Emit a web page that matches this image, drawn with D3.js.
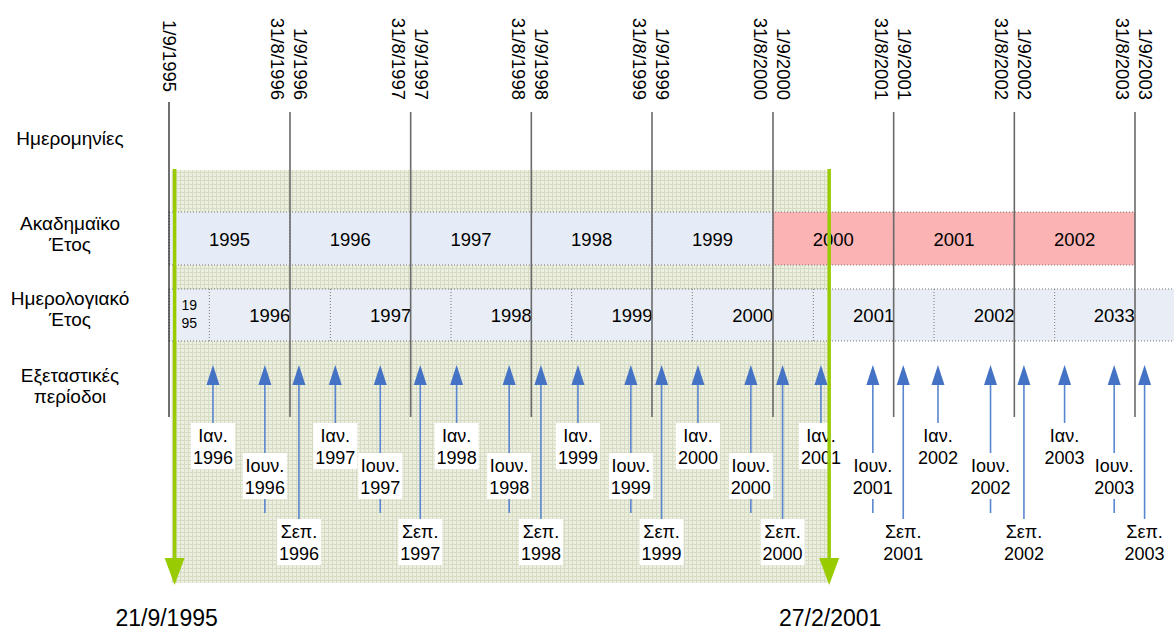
<!DOCTYPE html>
<html>
<head>
<meta charset="utf-8">
<script src="https://cdn.jsdelivr.net/npm/d3@7"></script>
<style>
  html, body { margin: 0; padding: 0; background: #ffffff; }
  svg { display: block; font-family: "Liberation Sans", Arial, sans-serif; }
</style>
</head>
<body>
<svg id="chart" width="1174" height="630"></svg>
<script>
// ---------------- DATA ----------------
const rowLabels = [
  ["Ημερομηνίες"],
  ["Ακαδημαϊκο", "Έτος"],
  ["Ημερολογιακό", "Έτος"],
  ["Εξεταστικές", "περίοδοι"]
];

// academic-year boundaries (1 September of each year)
const boundaryDates = ["1995-09-01","1996-09-01","1997-09-01","1998-09-01","1999-09-01",
                       "2000-09-01","2001-09-01","2002-09-01","2003-09-01"];
const boundaryLabels = [
  ["1/9/1995"],
  ["1/9/1996", "31/8/1996"],
  ["1/9/1997", "31/8/1997"],
  ["1/9/1998", "31/8/1998"],
  ["1/9/1999", "31/8/1999"],
  ["1/9/2000", "31/8/2000"],
  ["1/9/2001", "31/8/2001"],
  ["1/9/2002", "31/8/2002"],
  ["1/9/2003", "31/8/2003"]
];

// academic years (start year), and those highlighted in red
const academicYears = ["1995","1996","1997","1998","1999","2000","2001","2002"];
const academicHighlighted = ["2000","2001","2002"];

// calendar years: start date of each cell and its label lines
const calendarStarts = ["1995-09-01","1996-01-01","1997-01-01","1998-01-01","1999-01-01",
                        "2000-01-01","2001-01-01","2002-01-01","2003-01-01"];
const calendarLabels = [["19","95"],["1996"],["1997"],["1998"],["1999"],["2000"],["2001"],["2002"],["2033"]];

// examination periods
const examDates = [
  "1996-01-12","1996-06-17","1996-09-28",
  "1997-01-16","1997-06-01","1997-09-30",
  "1998-01-18","1998-06-26","1998-09-30",
  "1999-01-20","1999-06-29","1999-09-30",
  "2000-01-18","2000-06-26","2000-09-30",
  "2001-01-24","2001-06-30","2001-09-30",
  "2002-01-13","2002-06-21","2002-09-30",
  "2003-01-31","2003-06-30","2003-09-30"
];
const examKinds = [
  "jan","jun","sep","jan","jun","sep","jan","jun","sep","jan","jun","sep",
  "jan","jun","sep","jan","jun","sep","jan","jun","sep","jan","jun","sep"
];
const examLabels = [
  ["Ιαν.","1996"],["Ιουν.","1996"],["Σεπ.","1996"],
  ["Ιαν.","1997"],["Ιουν.","1997"],["Σεπ.","1997"],
  ["Ιαν.","1998"],["Ιουν.","1998"],["Σεπ.","1998"],
  ["Ιαν.","1999"],["Ιουν.","1999"],["Σεπ.","1999"],
  ["Ιαν.","2000"],["Ιουν.","2000"],["Σεπ.","2000"],
  ["Ιαν.","2001"],["Ιουν.","2001"],["Σεπ.","2001"],
  ["Ιαν.","2002"],["Ιουν.","2002"],["Σεπ.","2002"],
  ["Ιαν.","2003"],["Ιουν.","2003"],["Σεπ.","2003"]
];

// highlighted span
const spanDates = ["1995-09-21", "2001-02-27"];
const spanLabels = ["21/9/1995", "27/2/2001"];

// ---------------- LAYOUT ----------------
const W = 1174, H = 630;
const parse = d3.timeParse("%Y-%m-%d");
const x = d3.scaleTime()
  .domain([parse(boundaryDates[0]), parse(boundaryDates[boundaryDates.length - 1])])
  .range([169, 1135]);

const svg = d3.select("#chart");
svg.append("rect").attr("width", W).attr("height", H).attr("fill", "#ffffff");

const defs = svg.append("defs");
const pat = defs.append("pattern").attr("id", "hatch")
  .attr("width", 4).attr("height", 4).attr("patternUnits", "userSpaceOnUse");
pat.append("rect").attr("width", 4).attr("height", 4).attr("fill", "#ECEEDF");
pat.append("path").attr("d", "M0,0.5H4M0.5,0V4").attr("stroke", "#D6DBC3").attr("stroke-width", 1);

const GREEN = "#99CC00", BLUE = "#4472C4";
const acadY = 212, acadH = 53, calY = 289, calH = 52;
const hatchTop = 170, hatchBottom = 583;

// hatched period background
const xs0 = x(parse(spanDates[0])), xs1 = x(parse(spanDates[1]));
svg.append("rect")
  .attr("x", xs0 - 4).attr("y", hatchTop)
  .attr("width", (xs1 - 4) - (xs0 - 4)).attr("height", hatchBottom - hatchTop)
  .attr("fill", "url(#hatch)");

// ---- academic year row
const acad = svg.append("g");
academicYears.forEach((yr, i) => {
  const a = x(parse(boundaryDates[i])), b = x(parse(boundaryDates[i + 1]));
  acad.append("rect").attr("x", a).attr("y", acadY).attr("width", b - a).attr("height", acadH)
    .attr("fill", academicHighlighted.includes(yr) ? "#FCB3B4" : "#E6ECF7");
  acad.append("line").attr("x1", a).attr("x2", a).attr("y1", acadY).attr("y2", acadY + acadH)
    .attr("stroke", "#777").attr("stroke-dasharray", "1,2");
  acad.append("text").attr("x", (a + b) / 2).attr("y", acadY + acadH / 2 + 7)
    .attr("text-anchor", "middle").attr("font-size", 18.5).attr("fill", "#000").text(yr);
});
{
  const a = x(parse(boundaryDates[0])), b = x(parse(boundaryDates[academicYears.length]));
  [acadY, acadY + acadH].forEach(yy => acad.append("line")
    .attr("x1", a).attr("x2", b).attr("y1", yy).attr("y2", yy)
    .attr("stroke", "#777").attr("stroke-dasharray", "1,2"));
}

// ---- calendar year row
const cal = svg.append("g");
calendarStarts.forEach((d, i) => {
  const a = x(parse(d));
  const b = i + 1 < calendarStarts.length ? x(parse(calendarStarts[i + 1])) : W;
  cal.append("rect").attr("x", a).attr("y", calY).attr("width", b - a).attr("height", calH)
    .attr("fill", "#E9EEF6");
  cal.append("line").attr("x1", a).attr("x2", a).attr("y1", calY).attr("y2", calY + calH)
    .attr("stroke", "#777").attr("stroke-dasharray", "1,2");
  const lines = calendarLabels[i];
  if (lines.length === 1) {
    cal.append("text").attr("x", (a + b) / 2).attr("y", calY + calH / 2 + 7)
      .attr("text-anchor", "middle").attr("font-size", 18.5).text(lines[0]);
  } else {
    lines.forEach((t, k) => cal.append("text").attr("x", (a + b) / 2)
      .attr("y", calY + 21 + k * 17.5).attr("text-anchor", "middle")
      .attr("font-size", 14).text(t));
  }
});
[calY, calY + calH].forEach(yy => cal.append("line")
  .attr("x1", x(parse(calendarStarts[0]))).attr("x2", W).attr("y1", yy).attr("y2", yy)
  .attr("stroke", "#777").attr("stroke-dasharray", "1,2"));

// ---- boundary lines and rotated labels
const bnd = svg.append("g");
boundaryDates.forEach((d, i) => {
  const bx = x(parse(d));
  const single = boundaryLabels[i].length === 1;
  bnd.append("line").attr("x1", bx).attr("x2", bx)
    .attr("y1", single ? 102 : 112).attr("y2", 417)
    .attr("stroke", single ? "#222" : "#6a6a6a").attr("stroke-width", single ? 1.3 : 1.6);
  const g = bnd.append("g")
    .attr("transform", `translate(${bx},${single ? 92 : 100}) rotate(90)`);
  boundaryLabels[i].forEach((t, k) => {
    g.append("text").attr("x", 0)
      .attr("y", single ? 6 : (k === 0 ? -4 : 19))
      .attr("text-anchor", "end").attr("font-size", 18.5).attr("fill", "#000").text(t);
  });
});

// ---- exam period arrows
const kindLayout = {
  jan: { boxTop: 423, lineEnd: 423 },
  jun: { boxTop: 453, lineEnd: 513 },
  sep: { boxTop: 519, lineEnd: 519 }
};
const ex = svg.append("g");
examDates.forEach((d, i) => {
  const ax = x(parse(d));
  const L = kindLayout[examKinds[i]];
  ex.append("line").attr("x1", ax).attr("x2", ax).attr("y1", 384).attr("y2", L.lineEnd)
    .attr("stroke", "#5A86CF").attr("stroke-width", 1.6);
  ex.append("path").attr("d", `M${ax - 6.5},385L${ax + 6.5},385L${ax},365Z`).attr("fill", BLUE);
  const box = ex.append("rect").attr("y", L.boxTop).attr("height", 46).attr("fill", "#ffffff");
  let maxW = 0;
  examLabels[i].forEach((t, k) => {
    const tx = ex.append("text").attr("x", ax).attr("y", L.boxTop + 18.5 + k * 22)
      .attr("text-anchor", "middle").attr("font-size", 18).attr("fill", "#000").text(t);
    maxW = Math.max(maxW, tx.node().getComputedTextLength());
  });
  box.attr("x", ax - maxW / 2 - 2).attr("width", maxW + 4);
});

// ---- green span arrows and labels
const gr = svg.append("g");
spanDates.forEach((d, i) => {
  const gx = x(parse(d)) - (i === 0 ? 1 : 3);
  gr.append("line").attr("x1", gx).attr("x2", gx).attr("y1", 169).attr("y2", 562)
    .attr("stroke", GREEN).attr("stroke-width", 3.5);
  gr.append("path").attr("d", `M${gx - 10},558L${gx + 10},558L${gx},585Z`).attr("fill", GREEN);
  gr.append("text").attr("x", gx + (i === 0 ? -8 : 1)).attr("y", 626)
    .attr("text-anchor", "middle").attr("font-size", 23).attr("fill", "#000").text(spanLabels[i]);
});

// ---- row labels
const rowBase = [145, 230, 305, 382];
const rl = svg.append("g");
rowLabels.forEach((lines, i) => {
  lines.forEach((t, k) => rl.append("text").attr("x", 70).attr("y", rowBase[i] + k * 21)
    .attr("text-anchor", "middle").attr("font-size", 19).attr("fill", "#000").text(t));
});
</script>
</body>
</html>
